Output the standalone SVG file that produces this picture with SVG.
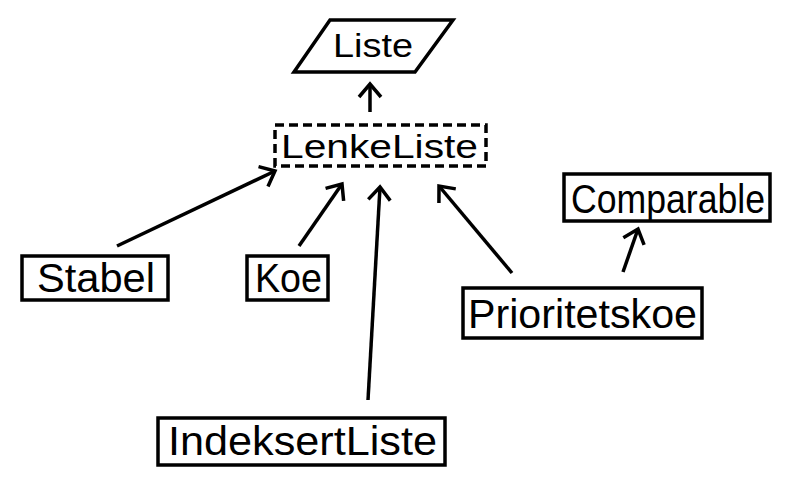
<svg xmlns="http://www.w3.org/2000/svg" width="788" height="497" viewBox="0 0 788 497">
<style>
.box{fill:#fff;stroke:#000;stroke-width:3.5}
.dash{fill:#fff;stroke:#000;stroke-width:3.5;stroke-dasharray:9 5}
.t{font-family:"Comic Sans MS","Liberation Sans","DejaVu Sans",sans-serif;fill:#000;text-anchor:start}
.s{font-size:33px}
.l{font-size:40px}
.c{stroke:#000;stroke-width:3.5;fill:none;marker-end:url(#ah)}
</style>
<defs>
<marker id="ah" markerUnits="userSpaceOnUse" viewBox="-16 -14 20 28" refX="0" refY="0" markerWidth="20" markerHeight="28" orient="auto" overflow="visible">
<path d="M-13,-11 L0,0 L-13,11" fill="none" stroke="#000" stroke-width="3.5" stroke-linecap="butt" stroke-linejoin="miter"/>
</marker>
</defs>
<g id="connectors">
<line class="c" x1="370" y1="112" x2="370" y2="84"/>
<line class="c" x1="117" y1="246" x2="275" y2="171"/>
<line class="c" x1="299" y1="246" x2="342" y2="184"/>
<line class="c" x1="368" y1="400" x2="380" y2="187"/>
<line class="c" x1="512" y1="273" x2="439" y2="186"/>
<line class="c" x1="623" y1="272" x2="638" y2="229"/>
</g>
<g id="Liste">
<polygon class="box" points="330,20 453,20 415,72 294,72"/>
<text class="t s" x="333" y="57" textLength="80" lengthAdjust="spacingAndGlyphs">Liste</text>
</g>
<g id="LenkeListe">
<rect class="dash" x="275" y="125" width="211" height="41"/>
<text class="t s" x="281" y="158" textLength="197" lengthAdjust="spacingAndGlyphs">LenkeListe</text>
</g>
<g id="Stabel">
<rect class="box" x="22" y="256" width="146" height="44"/>
<text class="t l" x="37" y="292" textLength="118" lengthAdjust="spacingAndGlyphs">Stabel</text>
</g>
<g id="Koe">
<rect class="box" x="247" y="256" width="81" height="44"/>
<text class="t l" x="255" y="292" textLength="67" lengthAdjust="spacingAndGlyphs">Koe</text>
</g>
<g id="Comparable">
<rect class="box" x="564" y="174" width="206" height="47"/>
<text class="t l" x="571" y="213" textLength="194" lengthAdjust="spacingAndGlyphs">Comparable</text>
</g>
<g id="Prioritetskoe">
<rect class="box" x="463" y="288" width="239" height="50"/>
<text class="t l" x="468" y="328" textLength="229" lengthAdjust="spacingAndGlyphs">Prioritetskoe</text>
</g>
<g id="IndeksertListe">
<rect class="box" x="158" y="418" width="287" height="47"/>
<text class="t l" x="168" y="455" textLength="269" lengthAdjust="spacingAndGlyphs">IndeksertListe</text>
</g>
</svg>
